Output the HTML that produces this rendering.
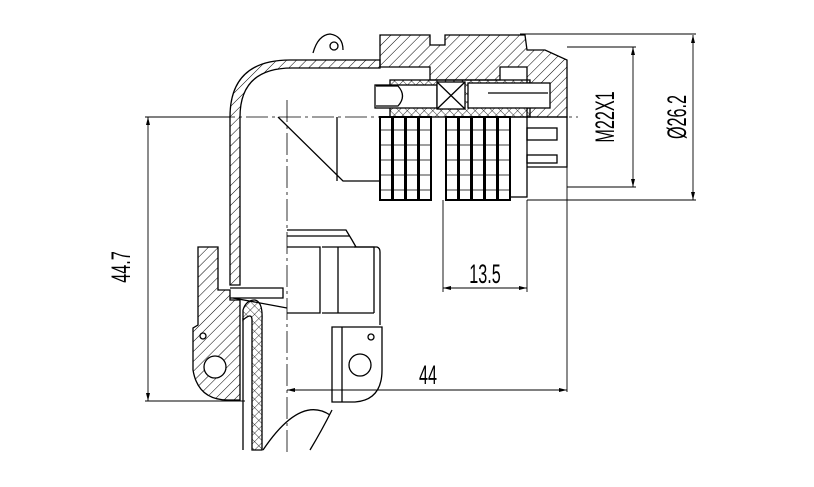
<!DOCTYPE html>
<html><head><meta charset="utf-8"><style>
html,body{margin:0;padding:0;background:#fff;width:814px;height:487px;overflow:hidden}
svg{display:block}
text{font-family:"Liberation Sans",sans-serif;fill:#000}
</style></head><body>
<svg width="814" height="487" viewBox="0 0 814 487" xmlns="http://www.w3.org/2000/svg">
<defs>
<pattern id="h" width="7" height="7" patternUnits="userSpaceOnUse" patternTransform="rotate(45)"><line x1="0" y1="0" x2="0" y2="7" stroke="#000" stroke-width="1"/></pattern>
<pattern id="x" width="6" height="6" patternUnits="userSpaceOnUse" patternTransform="rotate(45)"><path d="M0 0V6M0 0H6" stroke="#000" stroke-width="0.8" fill="none"/></pattern>
</defs>
<g fill="none" stroke="#000" stroke-width="1.3">
<line x1="180" y1="117" x2="578" y2="117" stroke-width="0.8" stroke-dasharray="22,4,3,4"/>
<line x1="287" y1="100" x2="287" y2="452" stroke-width="0.8" stroke-dasharray="22,4,3,4"/>
<path d="M230 255 L230 117 Q230 60 290 60 L380 60 L380 68 L292 68 Q240 68 240 117 L240 285 L230 285 Z" fill="url(#h)"/>
<path d="M313 53 Q318 35 330 34 Q343 36 343 50" fill="#fff"/>
<circle cx="334" cy="46" r="4"/>
<path d="M278 117 L343 181 L380 181"/>
<line x1="337" y1="117" x2="337" y2="181"/>
<path d="M287 230 L346 230 L352 240 L356 247"/>
<line x1="287" y1="236" x2="350" y2="236"/>
<path d="M380 35 L430 35 L430 45 L445 45 L445 35 L525 35 L527 50 L545 50 L567 60 L567 117 L527 117 L527 67 L500 67 L500 80 L430 80 L430 67 L380 67 Z" fill="url(#h)"/>
<rect x="390" y="80" width="140" height="37" fill="url(#x)"/>
<rect x="375" y="85" width="62" height="23" fill="#fff"/>
<rect x="437" y="82" width="28" height="27" fill="#fff"/>
<path d="M437 82 L465 109 M465 82 L437 109"/>
<rect x="468" y="83" width="82" height="25" fill="#fff"/>
<line x1="488" y1="93" x2="548" y2="93"/>
<path d="M376 86 L398 86 Q407 96 398 106 L376 106"/>
<g fill="#fff" stroke-width="2">
<rect x="380" y="117" width="12" height="83"/><rect x="393" y="117" width="12" height="83"/><rect x="406" y="117" width="12" height="83"/><rect x="419" y="117" width="12" height="83"/>
<rect x="446" y="117" width="12" height="83"/><rect x="459" y="117" width="12" height="83"/><rect x="472" y="117" width="12" height="83"/><rect x="485" y="117" width="12" height="83"/><rect x="498" y="117" width="12" height="83"/>
</g>
<g stroke-width="0.8">
<path d="M380 130H431M380 145H431M380 160H431M380 175H431M380 190H431M446 130H510M446 145H510M446 160H510M446 175H510M446 190H510"/>
</g>
<rect x="510" y="117" width="17" height="80"/>
<path d="M527 117 L567 117 L567 167 L527 167"/>
<rect x="527" y="128" width="30" height="12"/><rect x="527" y="155" width="30" height="8"/>
<path d="M287 247 L320 247 L320 313 L287 313"/>
<path d="M322 247 L377 247 Q380 248 380 252 L380 325"/>
<path d="M338 247 L338 313 M354 247 L374 247 L374 313 M322 313 L374 313"/>
<path d="M198 247 L218 247 L218 290 L230 290 L230 300 L240 300 L240 400 L228 400 Q198 400 193 370 L193 328 L198 325 Z" fill="url(#h)"/>
<circle cx="215" cy="367" r="11" fill="#fff"/>
<circle cx="203" cy="336" r="3" fill="#fff"/>
<path d="M230 288 L283 288 L283 298 L230 298"/>
<path d="M233 298 L287 308"/>
<path d="M243 310 Q246 300 255 300 Q263 302 262 320 L262 450 L252 450 L252 320 Q252 312 243 320 Z" fill="url(#x)"/>
<line x1="243" y1="318" x2="243" y2="450"/>
<path d="M332 327 L382 327 L382 370 Q382 400 355 402 L332 402 Z" fill="#fff"/>
<line x1="342" y1="327" x2="342" y2="402"/>
<circle cx="360" cy="365" r="11"/>
<circle cx="371" cy="337" r="3"/>
<path d="M263 450 Q300 395 330 415 M310 450 Q322 430 332 410"/>
</g>
<g stroke="#000" stroke-width="0.9" fill="none">
<path d="M145 117H230M145 401H245M148 117V401"/>
<path d="M520 34H696M527 200H696M693 35V200"/>
<path d="M567 47H636M567 187H636M633 47V187"/>
<path d="M443 200V292M527 200V292M443 288H527"/>
<path d="M567 167V392M287 390H567"/>
</g>
<g fill="#000">
<path d="M148 117l-2 8h4zM148 401l-2-8h4zM693 35l-2 8h4zM693 200l-2-8h4zM633 47l-2 8h4zM633 187l-2-8h4zM443 288l8-2v4zM527 288l-8-2v4zM287 390l8-2v4zM567 390l-8-2v4z"/>
</g>
<text font-size="27" transform="translate(130,267) rotate(-90) scale(0.6,1)" text-anchor="middle">44.7</text>
<text font-size="27" transform="translate(614,117) rotate(-90) scale(0.6,1)" text-anchor="middle">M22X1</text>
<text font-size="27" transform="translate(686,117) rotate(-90) scale(0.6,1)" text-anchor="middle">Ø26.2</text>
<text font-size="27" transform="translate(485,283) scale(0.6,1)" text-anchor="middle">13.5</text>
<text font-size="27" transform="translate(428,384) scale(0.6,1)" text-anchor="middle">44</text>
</svg>
</body></html>
